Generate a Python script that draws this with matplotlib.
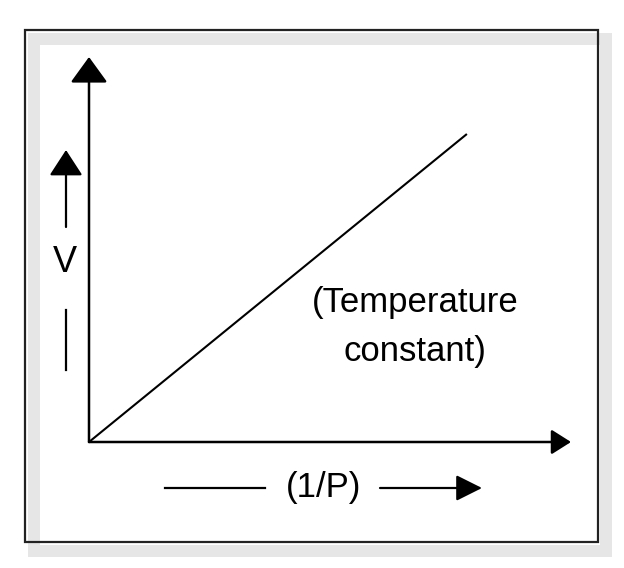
import matplotlib
matplotlib.use("Agg")
import matplotlib.pyplot as plt
from matplotlib.patches import Rectangle

plt.rcParams['font.family'] = ['Liberation Sans', 'DejaVu Sans']

# Boyle's law: V proportional to 1/P (schematic)
inv_p = [0.0, 0.784]
volume = [0.0, 0.80]
x_label = "(1/P)"
y_label = "V"
note = "(Temperature\nconstant)"

W, H = 624, 568
fig = plt.figure(figsize=(W / 100, H / 100), dpi=100)

# background layer in pixel units: framed box with grey shadow
bg = fig.add_axes([0, 0, 1, 1])
bg.set_xlim(0, W)
bg.set_ylim(H, 0)
bg.axis('off')
bg.add_patch(Rectangle((33.5, 38.5), 572, 512, fill=False,
                       edgecolor='#e6e6e6', lw=8.6))
bg.add_patch(Rectangle((25, 30), 573, 512, fill=False,
                       edgecolor='#222222', lw=1.6))

# small direction arrows beside the axis labels
arr = dict(arrowstyle='-|>,head_length=0.8,head_width=0.52',
           mutation_scale=20, lw=1.6, color='black', shrinkA=0, shrinkB=0)
bg.annotate('', xy=(66, 150), xytext=(66, 227), arrowprops=arr)
bg.plot([66, 66], [310, 370], color='black', lw=1.6)
bg.text(65, 262, y_label, fontsize=26, ha='center', va='center')

bg.plot([165, 265], [488, 488], color='black', lw=1.6)
bg.text(324, 488, x_label, fontsize=25, ha='center', va='center')
arr2 = dict(arrowstyle='-|>,head_length=0.8,head_width=0.4',
            mutation_scale=20, lw=1.6, color='black', shrinkA=0, shrinkB=0)
bg.annotate('', xy=(482, 488), xytext=(380, 488), arrowprops=arr2)

bg.text(415, 327, note, fontsize=25, ha='center', va='center',
        multialignment='center', linespacing=1.6)

# main plot axes
ax = fig.add_axes([89 / W, (H - 442) / H, (571 - 89) / W, (442 - 57) / H])
ax.patch.set_alpha(0)
ax.set_xlim(0, 1)
ax.set_ylim(0, 1)
for s in ax.spines.values():
    s.set_visible(False)
ax.set_xticks([])
ax.set_yticks([])

ax.plot(inv_p, volume, color='black', lw=1.5, solid_capstyle='butt')

ax.annotate('', xy=(0, 1), xytext=(0, 0), xycoords='axes fraction',
            arrowprops=dict(arrowstyle='-|>,head_length=0.8,head_width=0.58',
                            mutation_scale=20, lw=1.8, color='black',
                            shrinkA=0, shrinkB=0))
ax.annotate('', xy=(1, 0), xytext=(0, 0), xycoords='axes fraction',
            arrowprops=dict(arrowstyle='-|>,head_length=0.6,head_width=0.38',
                            mutation_scale=20, lw=1.8, color='black',
                            shrinkA=0, shrinkB=0))

fig.savefig('out.png', dpi=100)
